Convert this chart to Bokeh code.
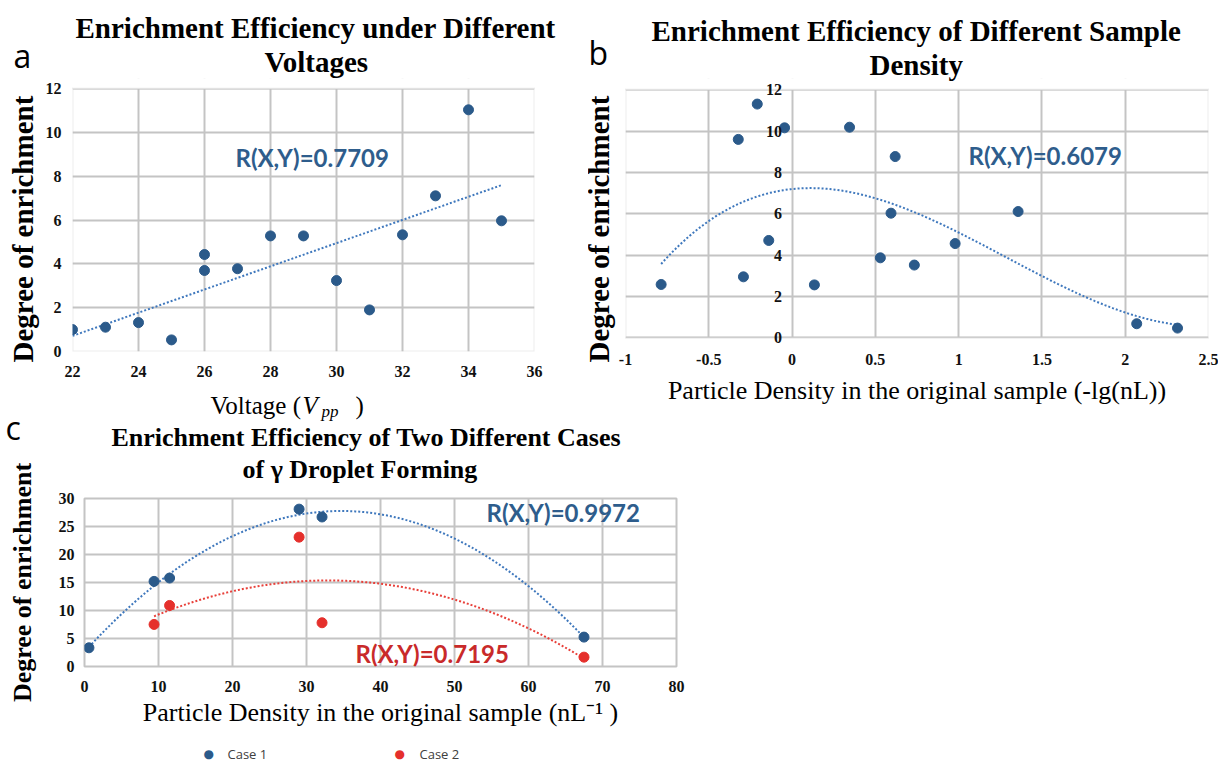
import numpy as np
from bokeh.plotting import figure
from bokeh.models import Label, Range1d, FixedTicker, Title, BoxAnnotation
from bokeh.layouts import column, row
from bokeh.embed import file_html
from bokeh.resources import INLINE

# ---------------- data ----------------
# panel a
VOLTAGE = [22, 23, 24, 25, 26, 26, 27, 28, 29, 30, 31, 32, 33, 34, 35]
ENRICH_A = [1.00, 1.11, 1.32, 0.53, 4.43, 3.70, 3.78, 5.28, 5.28, 3.24, 1.90, 5.33, 7.11, 11.04, 5.97]
# panel b
DENSITY_B = [-0.786, -0.323, -0.292, -0.209, -0.140, -0.045, 0.134, 0.345,
             0.530, 0.594, 0.619, 0.734, 0.979, 1.357, 2.069, 2.314]
ENRICH_B = [2.58, 9.60, 2.95, 11.31, 4.71, 10.16, 2.56, 10.19,
            3.87, 6.03, 8.77, 3.52, 4.56, 6.11, 0.68, 0.47]
# panel c
DENSITY_C1 = [0.6, 9.4, 11.5, 29.0, 32.1, 67.5]
ENRICH_C1 = [3.34, 15.2, 15.8, 28.1, 26.7, 5.25]
DENSITY_C2 = [9.4, 11.5, 29.0, 32.1, 67.5]
ENRICH_C2 = [7.51, 10.9, 23.1, 7.81, 1.67]
SERIES_C = ["Case 1", "Case 2"]

TICKS_A_X = [22, 24, 26, 28, 30, 32, 34, 36]
TICKS_A_Y = [0, 2, 4, 6, 8, 10, 12]
TICKS_B_X = [-1, -0.5, 0, 0.5, 1, 1.5, 2, 2.5]
TICK_LABELS_B_X = ["-1", "-0.5", "0", "0.5", "1", "1.5", "2", "2.5"]
TICKS_B_Y = [0, 2, 4, 6, 8, 10, 12]
TICKS_C_X = [0, 10, 20, 30, 40, 50, 60, 70, 80]
TICKS_C_Y = [0, 5, 10, 15, 20, 25, 30]

R_A = "R(X,Y)=0.7709"
R_B = "R(X,Y)=0.6079"
R_C1 = "R(X,Y)=0.9972"
R_C2 = "R(X,Y)=0.7195"

# ---------------- style ----------------
SERIF = "Liberation Serif"
SANS = "Open Sans"
RFONT = "Lato"
GRID = "#c4c4c4"
BLUE = "#2b5a8a"
RED = "#e5302c"
TREND_BLUE = "#3f78bd"
TREND_RED = "#e8403a"
RTEXT_BLUE = "#2e5d8c"
RTEXT_RED = "#c92a2a"
HF_SERIF = 1.107
HF_SANS = 1.362
HF_DEJAVU = 1.164


def base(width, height, xr, yr, left, right, top, bottom, xticks, yticks, xstand, ystand):
    p = figure(width=width, height=height, x_range=Range1d(*xr), y_range=Range1d(*yr),
               output_backend="svg", toolbar_location=None,
               min_border_left=left, min_border_right=right,
               min_border_top=top, min_border_bottom=bottom)
    p.title.visible = False
    p.xaxis.ticker = FixedTicker(ticks=xticks)
    p.yaxis.ticker = FixedTicker(ticks=yticks)
    for ax in list(p.xaxis) + list(p.yaxis):
        ax.axis_line_color = None
        ax.major_tick_line_color = None
        ax.minor_tick_line_color = None
        ax.major_tick_out = 0
        ax.major_tick_in = 0
        ax.minor_tick_out = 0
        ax.major_label_text_font = SERIF
        ax.major_label_text_font_style = "bold"
        ax.major_label_text_font_size = "16px"
        ax.major_label_text_color = "#111111"
        ax.axis_label_text_font = SERIF
        ax.axis_label_text_font_style = "normal"
        ax.axis_label_text_color = "black"
    p.xaxis.major_label_standoff = xstand
    p.yaxis.major_label_standoff = ystand
    for g in list(p.xgrid) + list(p.ygrid):
        g.grid_line_color = GRID
        g.grid_line_width = 2
    p.outline_line_color = GRID
    p.outline_line_width = 2
    p.background_fill_color = "white"
    p.border_fill_color = "white"
    return p


def plot_area(p, x0, x1, y0, y1, ylo, yhi):
    # white-out the frame strips outside the gridded area, then draw its border
    p.outline_line_color = None
    if ylo < y0:
        p.add_layout(BoxAnnotation(left=x0, right=x1, bottom=ylo - 1, top=y0, fill_color="white",
                                   fill_alpha=1, line_color=None, level="underlay"))
    if yhi > y1:
        p.add_layout(BoxAnnotation(left=x0, right=x1, bottom=y1, top=yhi + 1, fill_color="white",
                                   fill_alpha=1, line_color=None, level="underlay"))
    p.add_layout(BoxAnnotation(left=x0, right=x1, bottom=y0, top=y1, fill_alpha=0,
                               line_color=GRID, line_width=2, level="underlay"))


def spacer(p, side, size):
    p.add_layout(Title(text=" ", text_font_size="1px", standoff=size - 3.15), side)


def zt(p, side, text, px, offset, font=SERIF, style="bold", hf=HF_SERIF, color="black"):
    # a title row of (nearly) zero thickness, text centred on the row position
    p.add_layout(Title(text=text, text_font=font, text_font_size=f"{px}px", text_font_style=style,
                       text_color=color, align="left", offset=offset, vertical_align="middle",
                       standoff=-(2 + hf * px)), side)


def rlabel(p, x, y, text, color):
    p.add_layout(Label(x=x, y=y, x_units="screen", y_units="screen", text=text,
                       text_font=RFONT, text_font_size="24px", text_font_style="bold",
                       text_color=color, text_align="left", text_baseline="middle"))


def trend(xs, ys, deg, n=200):
    coef = np.polyfit(np.array(xs, float), np.array(ys, float), deg)
    xx = np.linspace(min(xs), max(xs), n)
    return xx, np.polyval(coef, xx)


ROW_H = 421

# ---------------- panel a ----------------
A_Y = (0, 12.47)
pa = base(588, ROW_H, (22, 36), A_Y, 72, 54, 78, ROW_H - 351, TICKS_A_X, TICKS_A_Y, 14, 11)
plot_area(pa, 22, 36, 0, 12, *A_Y)
tx, ty = trend(VOLTAGE, ENRICH_A, 1)
pa.line(tx, ty, line_color=TREND_BLUE, line_width=2, line_dash="2 2")
pa.scatter(VOLTAGE, ENRICH_A, size=10, color=BLUE)
rlabel(pa, 163, 194, R_A, RTEXT_BLUE)
spacer(pa, "above", 17.1)
zt(pa, "above", "Voltages", 29, 192)
spacer(pa, "above", 6.3)
zt(pa, "above", "a", 32, -59, font=SANS, style="normal", hf=HF_SANS)
spacer(pa, "above", 28.4)
zt(pa, "above", "Enrichment Efficiency under Different", 29, 3)
spacer(pa, "left", 20)
zt(pa, "left", "Degree of enrichment", 29, -11)
spacer(pa, "below", 26)
zt(pa, "below", "Voltage (", 25, 138, style="normal")
zt(pa, "below", "V", 25, 230, style="italic")
zt(pa, "below", ")", 25, 283, style="normal")
spacer(pa, "below", 6)
zt(pa, "below", "pp", 17, 249, style="italic")

# ---------------- panel b ----------------
B_Y = (-0.663, 12.547)
pb = base(630, ROW_H, (-1, 2.5), B_Y, 37, 10, 78, ROW_H - 351, TICKS_B_X, TICKS_B_Y, 2, 10)
plot_area(pb, -1, 2.5, 0, 12, *B_Y)
pb.xaxis.major_label_overrides = {float(t): s for t, s in zip(TICKS_B_X, TICK_LABELS_B_X)}
pb.yaxis.fixed_location = 0
pb.xaxis.axis_label = "Particle Density in the original sample (-lg(nL))"
pb.xaxis.axis_label_text_font_size = "26px"
pb.xaxis.axis_label_standoff = 8
tx, ty = trend(DENSITY_B, ENRICH_B, 3)
pb.line(tx, ty, line_color=TREND_BLUE, line_width=2, line_dash="2 2")
pb.scatter(DENSITY_B, ENRICH_B, size=10, color=BLUE)
rlabel(pb, 343, 196, R_B, RTEXT_BLUE)
spacer(pb, "above", 14.1)
zt(pb, "above", "Density", 29, 244)
spacer(pb, "above", 11.6)
zt(pb, "above", "b", 32, -37, font=SANS, style="normal", hf=HF_SANS)
spacer(pb, "above", 21.7)
zt(pb, "above", "Enrichment Efficiency of Different Sample", 29, 26)
spacer(pb, "left", 27)
zt(pb, "left", "Degree of enrichment", 29, -11)

# ---------------- panel c ----------------
C_H = 762 - ROW_H
pc = base(700, C_H, (0, 80), (0, 30), 84, 24, 498 - ROW_H, 96, TICKS_C_X, TICKS_C_Y, 14, 10)
pc.xaxis.axis_label = "Particle Density in the original sample (nL\u207b\u00b9 )"
pc.xaxis.axis_label_text_font_size = "26px"
pc.xaxis.axis_label_standoff = 3
pc.yaxis.axis_label = "Degree of enrichment"
pc.yaxis.axis_label_text_font_size = "26px"
pc.yaxis.axis_label_text_font_style = "bold"
pc.yaxis.axis_label_standoff = 19
tx, ty = trend(DENSITY_C1, ENRICH_C1, 2)
pc.line(tx, ty, line_color=TREND_BLUE, line_width=2, line_dash="2 2")
tx, ty = trend(DENSITY_C2, ENRICH_C2, 2)
pc.line(tx, ty, line_color=TREND_RED, line_width=2, line_dash="2 2")
pc.scatter(DENSITY_C1, ENRICH_C1, size=10, color=BLUE)
pc.scatter(DENSITY_C2, ENRICH_C2, size=10, color=RED)
rlabel(pc, 402, 154, R_C1, RTEXT_BLUE)
rlabel(pc, 271, 13.5, R_C2, RTEXT_RED)
spacer(pc, "above", 28.8)
zt(pc, "above", "of \u03b3 Droplet Forming", 26, 158)
spacer(pc, "above", 31.6)
zt(pc, "above", "Enrichment Efficiency of Two Different Cases", 26, 27)
spacer(pc, "above", 10.3)
zt(pc, "above", "c", 32, -79, font=SANS, style="normal", hf=HF_SANS)
# legend row below the x-axis label
spacer(pc, "below", 24)
zt(pc, "below", "\u25cf", 12, 119, font="DejaVu Sans", style="normal", hf=HF_DEJAVU, color=BLUE)
zt(pc, "below", SERIES_C[0], 13, 143, font=SANS, style="normal", hf=HF_SANS, color="#404040")
zt(pc, "below", "\u25cf", 12, 310, font="DejaVu Sans", style="normal", hf=HF_DEJAVU, color=RED)
zt(pc, "below", SERIES_C[1], 13, 335, font=SANS, style="normal", hf=HF_SANS, color="#404040")

layout = column(row(pa, pb), pc)
open("out.html", "w").write(file_html(layout, INLINE))
